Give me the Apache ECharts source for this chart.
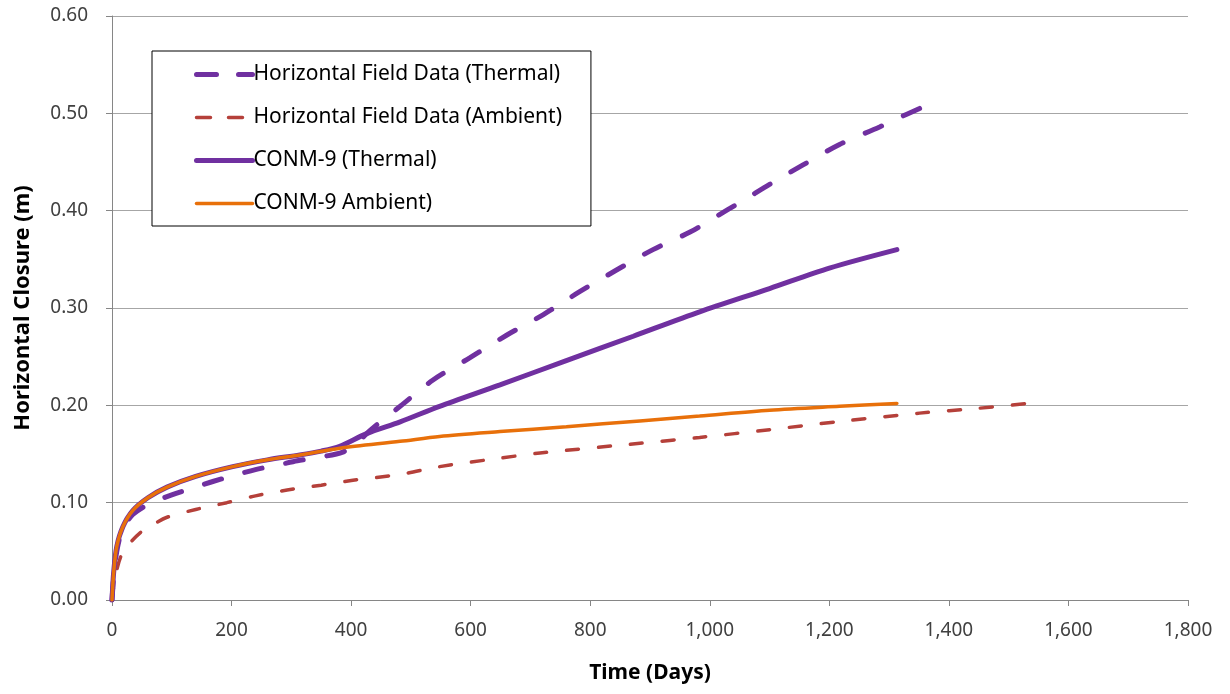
<!DOCTYPE html>
<html>
<head>
<meta charset="utf-8">
<script src="https://cdn.jsdelivr.net/npm/echarts@6/dist/echarts.min.js"></script>
<style>html,body{margin:0;padding:0;background:#fff;}#c{width:1230px;height:694px;}</style>
</head>
<body>
<div id="c"></div>
<script>
const seriesNames = ['Horizontal Field Data (Thermal)', 'Horizontal Field Data (Ambient)', 'CONM-9 (Thermal)', 'CONM-9 Ambient)'];
const xTicks = [0, 200, 400, 600, 800, 1000, 1200, 1400, 1600, 1800];
const yTicks = [0, 0.1, 0.2, 0.3, 0.4, 0.5, 0.6];

const thermalFieldDays = [0, 3, 8, 15, 25, 35, 60, 100, 140, 170, 210, 240, 280, 310, 350, 386, 410, 426, 453, 482, 537, 599, 660, 721, 783, 844, 905, 967, 1000, 1060, 1100, 1156, 1217, 1284, 1315, 1351];
const thermalField = [0, 0.025, 0.05, 0.068, 0.08, 0.088, 0.098, 0.108, 0.116, 0.122, 0.129, 0.134, 0.139, 0.143, 0.147, 0.152, 0.161, 0.171, 0.185, 0.199, 0.226, 0.249, 0.272, 0.293, 0.317, 0.339, 0.360, 0.378, 0.390, 0.412, 0.427, 0.447, 0.468, 0.486, 0.495, 0.505];

const ambientFieldDays = [0, 3, 8, 15, 25, 47, 70, 92, 140, 192, 240, 293, 350, 403, 482, 548, 640, 716, 883, 983, 1100, 1212, 1351, 1450, 1532];
const ambientField = [0, 0.015, 0.031, 0.045, 0.055, 0.069, 0.078, 0.085, 0.093, 0.100, 0.107, 0.113, 0.118, 0.123, 0.129, 0.137, 0.145, 0.151, 0.161, 0.167, 0.175, 0.183, 0.192, 0.197, 0.202];

const conmThermalDays = [0, 3, 8, 18, 35, 60, 92, 140, 202, 260, 314, 350, 381, 426, 482, 548, 649, 760, 872, 983, 1100, 1200, 1313];
const conmThermal = [0, 0.03, 0.055, 0.075, 0.092, 0.105, 0.116, 0.127, 0.137, 0.144, 0.149, 0.153, 0.158, 0.171, 0.183, 0.199, 0.221, 0.246, 0.271, 0.296, 0.320, 0.341, 0.360];

const conmAmbientDays = [0, 3, 8, 18, 35, 60, 92, 140, 202, 260, 314, 381, 482, 548, 649, 760, 883, 983, 1100, 1217, 1313];
const conmAmbient = [0, 0.03, 0.055, 0.075, 0.092, 0.105, 0.116, 0.127, 0.137, 0.144, 0.149, 0.156, 0.163, 0.168, 0.173, 0.178, 0.184, 0.189, 0.195, 0.199, 0.202];

const pairs = (xs, ys) => xs.map((x, i) => [x, ys[i]]);

const colors = ['#7030A0', '#B5403A', '#7030A0', '#E8700A'];
const widths = [5, 3.5, 5, 3.5];
const dashes = [[18, 24], [12, 20], 'solid', 'solid'];
const legendDashes = [[20, 22], [14, 18], 'solid', 'solid'];

const FONT = 'Noto Sans';
const chart = echarts.init(document.getElementById('c'), null, {renderer: 'canvas'});
chart.setOption({
  animation: false,
  backgroundColor: '#ffffff',
  textStyle: {fontFamily: FONT},
  grid: {left: 112, right: 42, top: 16, bottom: 94, containLabel: false},
  legend: {
    orient: 'vertical',
    left: 152, top: 51,
    padding: [13, 29, 12, 42],
    itemWidth: 56, itemHeight: 14, itemGap: 22,
    borderColor: '#000', borderWidth: 1,
    backgroundColor: '#fff',
    itemStyle: {opacity: 0},
    textStyle: {fontFamily: FONT, fontSize: 21, color: '#000', padding: [0, 0, 0, -4]},
    data: seriesNames.map((n, i) => ({
      name: n,
      itemStyle: {opacity: 0},
      lineStyle: {color: colors[i], width: widths[i], type: legendDashes[i], cap: 'round'}
    }))
  },
  xAxis: {
    type: 'value', min: 0, max: 1800, interval: 200,
    name: 'Time (Days)', nameLocation: 'middle', nameGap: 63,
    nameTextStyle: {fontFamily: FONT, fontSize: 21, fontWeight: 'bold', color: '#000'},
    axisLine: {show: true, lineStyle: {color: '#868686', width: 1}},
    axisTick: {show: true, length: 6, lineStyle: {color: '#868686'}},
    axisLabel: {margin: 21, fontSize: 19, color: '#404040', formatter: v => v.toLocaleString('en-US')},
    splitLine: {show: false}
  },
  yAxis: {
    type: 'value', min: 0, max: 0.6, interval: 0.1,
    name: 'Horizontal Closure (m)', nameLocation: 'middle', nameGap: 78,
    nameTextStyle: {fontFamily: FONT, fontSize: 22, fontWeight: 'bold', color: '#000'},
    axisLine: {show: true, lineStyle: {color: '#868686', width: 1}},
    axisTick: {show: true, length: 6, lineStyle: {color: '#868686'}},
    axisLabel: {margin: 24, fontSize: 19, color: '#404040', formatter: v => v.toFixed(2)},
    splitLine: {show: true, lineStyle: {color: '#A6A6A6', width: 1}}
  },
  series: [
    {
      name: seriesNames[0], type: 'line', data: pairs(thermalFieldDays, thermalField),
      symbol: 'none', smooth: 0.3, z: 3,
      lineStyle: {color: colors[0], width: widths[0], type: dashes[0], cap: 'round'},
      itemStyle: {color: colors[0]}
    },
    {
      name: seriesNames[1], type: 'line', data: pairs(ambientFieldDays, ambientField),
      symbol: 'none', smooth: 0.3, z: 2,
      lineStyle: {color: colors[1], width: widths[1], type: dashes[1], cap: 'round'},
      itemStyle: {color: colors[1]}
    },
    {
      name: seriesNames[2], type: 'line', data: pairs(conmThermalDays, conmThermal),
      symbol: 'none', smooth: 0.3, z: 4,
      lineStyle: {color: colors[2], width: widths[2], cap: 'round'},
      itemStyle: {color: colors[2]}
    },
    {
      name: seriesNames[3], type: 'line', data: pairs(conmAmbientDays, conmAmbient),
      symbol: 'none', smooth: 0.3, z: 5,
      lineStyle: {color: colors[3], width: widths[3], cap: 'round'},
      itemStyle: {color: colors[3]}
    }
  ]
});
</script>
</body>
</html>
